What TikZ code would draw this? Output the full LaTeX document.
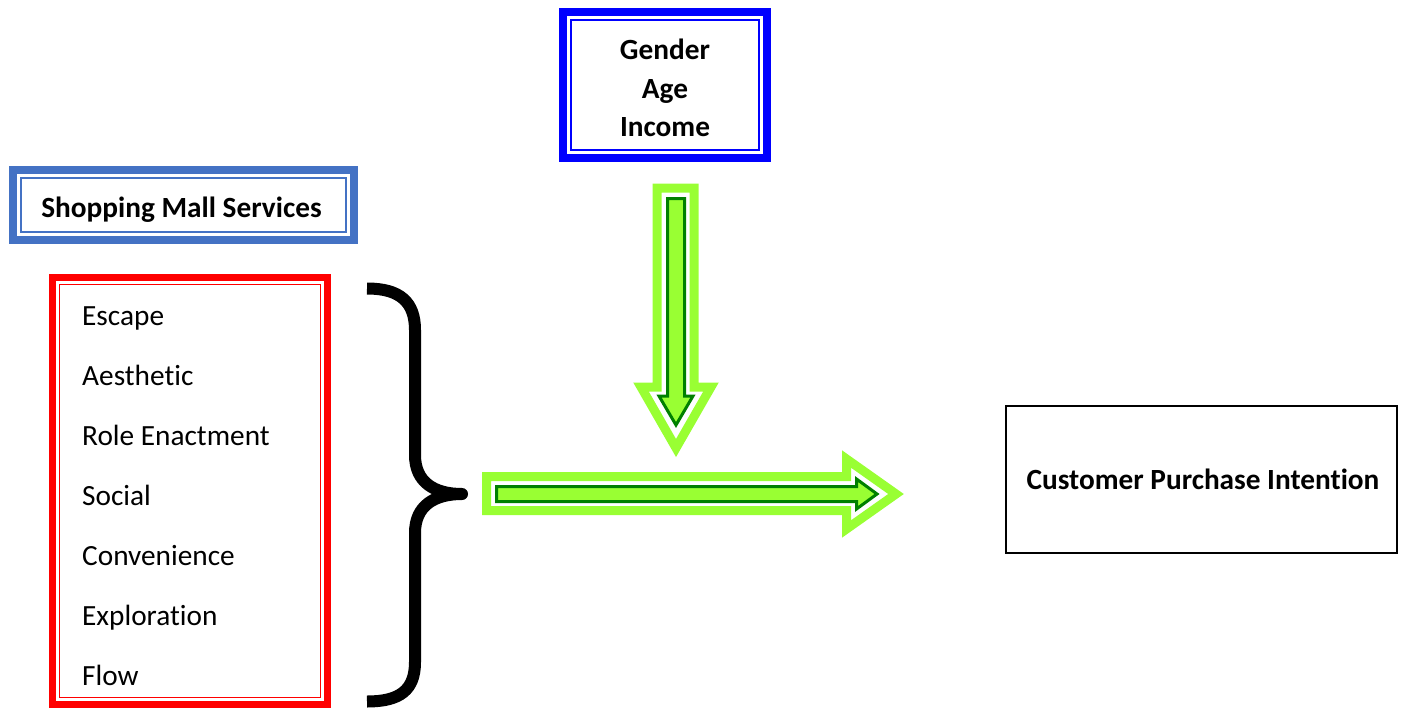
\documentclass[tikz,border=0pt]{standalone}
\usepackage{fontspec}
\setmainfont{Carlito}[Ligatures={NoCommon}]
\definecolor{lgreen}{RGB}{153,255,51}
\definecolor{dgreen}{RGB}{0,128,0}
\definecolor{mblue}{RGB}{68,114,196}
\definecolor{pblue}{RGB}{0,0,255}
\definecolor{pred}{RGB}{255,0,0}
\begin{document}
\begin{tikzpicture}[x=1pt,y=-1pt,
  txt/.style={font=\fontsize{29.3}{34}\selectfont, inner sep=0pt, anchor=base west},
  btxt/.style={font=\bfseries\fontsize{29.3}{34}\selectfont, inner sep=0pt, anchor=base},
  thickframe/.style={line width=8pt},
  thinframe/.style={line width=1.6pt},
  outerarrow/.style={draw=lgreen, line width=9pt, fill=white, miter limit=10},
  innerarrow/.style={draw=dgreen, line width=3pt, fill=lgreen, miter limit=10},
  bracestyle/.style={line width=12pt, line join=round}]
\useasboundingbox (0,0) rectangle (1403,709);

% Shopping Mall Services box
\draw[mblue, thickframe] (13,170) rectangle (354,240);
\draw[mblue, thinframe] (21,178) rectangle (346,232);
\node[btxt] (sms) at (181.5,217.5) {Shopping Mall Services};

% Gender box
\draw[pblue, thickframe] (563,12) rectangle (767,158);
\draw[pblue, thinframe] (571,20) rectangle (759,150);
\node[btxt] (gender) at (665,59.5) {Gender};
\node[btxt] (age) at (665,98.5) {Age};
\node[btxt] (income) at (665,136.5) {Income};

% Red list box
\draw[pred, line width=7pt] (52.5,277.5) rectangle (327.5,704.5);
\draw[pred, line width=1.5pt] (59.5,284.5) rectangle (320.5,697.5);
\node[txt] (escape) at (82,325) {Escape};
\node[txt] (aesthetic) at (82,385) {Aesthetic};
\node[txt] (role) at (82,445) {Role Enactment};
\node[txt] (social) at (82,505) {Social};
\node[txt] (conv) at (82,565) {Convenience};
\node[txt] (explo) at (82,625) {Exploration};
\node[txt] (flow) at (82,685) {Flow};

% Customer box
\draw[line width=2pt] (1006,406) rectangle (1397,553);
\node[btxt] (cpi) at (1203,489.5) {Customer Purchase Intention};

% Brace
\draw[bracestyle] (367,288.5) .. controls (400,288.5) and (415,302) .. (415,330) -- (415,455)
  .. controls (415,482) and (434,494) .. (462,494)
  .. controls (434,494) and (415,506) .. (415,533) -- (415,662)
  .. controls (415,690) and (400,701.5) .. (367,701.5);

% Down arrow
\draw[outerarrow] (657,188) -- (694,188) -- (694,387) -- (711,387) -- (676,448) -- (641,387) -- (657,387) -- cycle;
\draw[innerarrow] (667.5,198.5) -- (684.5,198.5) -- (684.5,396) -- (693,396) -- (676,425) -- (659,396) -- (667.5,396) -- cycle;

% Right arrow
\draw[outerarrow] (486.5,476.5) -- (846.5,476.5) -- (846.5,459) -- (896,494) -- (846.5,529) -- (846.5,510.5) -- (486.5,510.5) -- cycle;
\draw[innerarrow] (496.5,486.5) -- (856.5,486.5) -- (856.5,479) -- (877,494) -- (856.5,509) -- (856.5,501.5) -- (496.5,501.5) -- cycle;
\end{tikzpicture}
\end{document}
